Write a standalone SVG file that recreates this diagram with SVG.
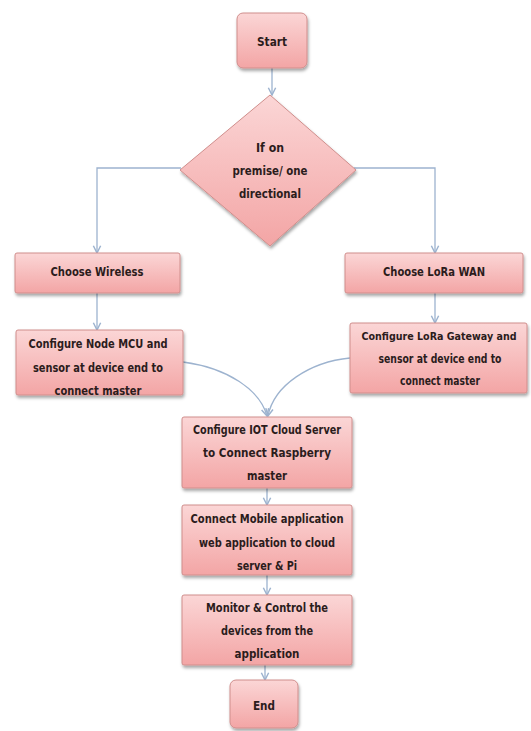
<svg xmlns="http://www.w3.org/2000/svg" width="531" height="731" viewBox="0 0 531 731">
<defs>
<linearGradient id="pink" x1="0" y1="0" x2="0" y2="1">
<stop offset="0" stop-color="#fbd6d6"/>
<stop offset="1" stop-color="#f3a5a5"/>
</linearGradient>
<filter id="sh" x="-10%" y="-10%" width="125%" height="135%">
<feDropShadow dx="1" dy="2.5" stdDeviation="1.5" flood-color="#000" flood-opacity="0.35"/>
</filter>
<marker id="ah" viewBox="0 0 10 10" refX="9" refY="5" markerWidth="7" markerHeight="7" orient="auto">
<path d="M1,1 L9,5 L1,9" fill="none" stroke="#9db3cf" stroke-width="1.6"/>
</marker>
<style>
.n{fill:url(#pink);stroke:#d08e8c;stroke-width:1;filter:url(#sh)}
.t{font-family:"DejaVu Sans Condensed","Liberation Sans",sans-serif;font-weight:bold;font-size:12.5px;fill:#2b1c1c;text-anchor:middle;dominant-baseline:central}
.s{font-size:11px}
.c{fill:none;stroke:#9db3cf;stroke-width:1.3;marker-end:url(#ah)}
</style>
</defs>
<rect width="531" height="731" fill="#ffffff"/>
<g id="connectors">
<path class="c" d="M272,68 L272,95"/>
<path class="c" d="M181,168 L97,168 L97,253"/>
<path class="c" d="M354,168 L435,168 L435,253"/>
<path class="c" d="M97,293 L97,330"/>
<path class="c" d="M435,293 L435,323"/>
<path class="c" d="M183,362 C228,368 260,390 267,416"/>
<path class="c" d="M350,358 C310,362 274,385 268,416"/>
<path class="c" d="M267,488 L267,505"/>
<path class="c" d="M267,575 L267,595"/>
<path class="c" d="M265,665 L265,680"/>
</g>
<g id="start">
<rect class="n" x="237" y="13" width="70" height="55" rx="6"/>
<text class="t" x="272" y="41" textLength="30" lengthAdjust="spacingAndGlyphs">Start</text>
</g>
<g id="decision">
<polygon class="n" points="270,95 356,170 270,246 180,170"/>
<text class="t" x="270" y="147" textLength="28" lengthAdjust="spacingAndGlyphs">If on</text>
<text class="t" x="270" y="170" textLength="75" lengthAdjust="spacingAndGlyphs">premise/ one</text>
<text class="t" x="270" y="193" textLength="62" lengthAdjust="spacingAndGlyphs">directional</text>
</g>
<g id="wireless">
<rect class="n" x="15" y="253" width="165" height="40" rx="2"/>
<text class="t" x="97" y="271" textLength="93" lengthAdjust="spacingAndGlyphs">Choose Wireless</text>
</g>
<g id="lorawan">
<rect class="n" x="345" y="253" width="178" height="40" rx="2"/>
<text class="t" x="434" y="271" textLength="102" lengthAdjust="spacingAndGlyphs">Choose LoRa WAN</text>
</g>
<g id="nodemcu">
<rect class="n" x="16" y="330" width="167" height="65" rx="2"/>
<text class="t" x="98" y="343" textLength="139" lengthAdjust="spacingAndGlyphs">Configure  Node MCU and</text>
<text class="t" x="98" y="367" textLength="130" lengthAdjust="spacingAndGlyphs">sensor at device end  to</text>
<text class="t" x="98" y="390" textLength="87" lengthAdjust="spacingAndGlyphs">connect master</text>
</g>
<g id="loragw">
<rect class="n" x="350" y="323" width="177" height="70" rx="2"/>
<text class="t s" x="439" y="336" textLength="155" lengthAdjust="spacingAndGlyphs">Configure  LoRa Gateway and</text>
<text class="t" x="440" y="358" textLength="123" lengthAdjust="spacingAndGlyphs">sensor at device end  to</text>
<text class="t" x="440" y="380" textLength="80" lengthAdjust="spacingAndGlyphs">connect master</text>
</g>
<g id="cloud">
<rect class="n" x="182" y="417" width="170" height="71" rx="2"/>
<text class="t" x="267" y="429" textLength="148" lengthAdjust="spacingAndGlyphs">Configure IOT Cloud Server</text>
<text class="t" x="267" y="452" textLength="128" lengthAdjust="spacingAndGlyphs">to Connect Raspberry</text>
<text class="t" x="267" y="475" textLength="40" lengthAdjust="spacingAndGlyphs">master</text>
</g>
<g id="mobile">
<rect class="n" x="182" y="505" width="170" height="70" rx="2"/>
<text class="t" x="267" y="518" textLength="153" lengthAdjust="spacingAndGlyphs">Connect Mobile application</text>
<text class="t" x="267" y="542" textLength="136" lengthAdjust="spacingAndGlyphs">web application to cloud</text>
<text class="t" x="267" y="565" textLength="60" lengthAdjust="spacingAndGlyphs">server &amp; Pi</text>
</g>
<g id="monitor">
<rect class="n" x="182" y="595" width="170" height="70" rx="2"/>
<text class="t" x="267" y="607" textLength="122" lengthAdjust="spacingAndGlyphs">Monitor &amp; Control the</text>
<text class="t" x="267" y="630" textLength="92" lengthAdjust="spacingAndGlyphs">devices from the</text>
<text class="t" x="267" y="653" textLength="65" lengthAdjust="spacingAndGlyphs">application</text>
</g>
<g id="end">
<rect class="n" x="230" y="680" width="68" height="48" rx="6"/>
<text class="t" x="264" y="705" textLength="22" lengthAdjust="spacingAndGlyphs">End</text>
</g>
</svg>
